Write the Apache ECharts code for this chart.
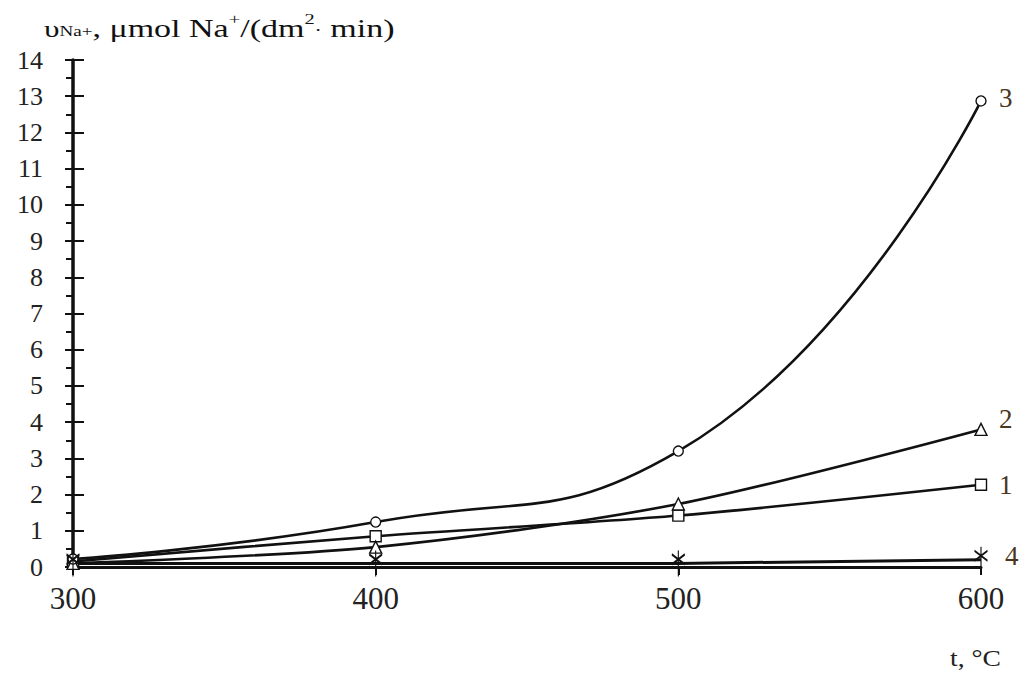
<!DOCTYPE html>
<html>
<head>
<meta charset="utf-8">
<script src="https://cdn.jsdelivr.net/npm/echarts@6/dist/echarts.min.js"></script>
<style>html,body{margin:0;padding:0;background:#fff}#c{width:1023px;height:679px}</style>
</head>
<body>
<div id="c"></div>
<script>
const temps = [300, 400, 500, 600];
const series1 = [0.15, 0.85, 1.42, 2.27];
const series2 = [0.1, 0.55, 1.74, 3.8];
const series3 = [0.22, 1.24, 3.2, 12.87];
const series4 = [0.1, 0.1, 0.1, 0.2];
const seriesNames = ['1', '2', '3', '4'];
const yTicks = [0, 14, 1];
const xTicks = [300, 600, 100];

const serif = '"Liberation Serif", "DejaVu Serif", serif';
const ink = '#111';
const labelInk = '#4a3520';
const asterisk = 'path://M6 0 L6 26 M0 4 L12 14 M12 4 L0 14';

function pts(vals) { return temps.map((t, i) => [t, vals[i]]); }

const chart = echarts.init(document.getElementById('c'), null, { renderer: 'svg' });

function mkSeries(name, vals, symbol, size, smooth, offset, extra) {
  return Object.assign({
    name: name,
    type: 'line',
    data: pts(vals),
    smooth: smooth,
    symbol: symbol,
    symbolSize: size,
    showAllSymbol: true,
    lineStyle: { color: ink, width: 2.6 },
    itemStyle: { color: '#fff', borderColor: ink, borderWidth: 1.4 },
    endLabel: {
      show: true,
      formatter: name,
      fontFamily: serif,
      fontSize: 27,
      color: labelInk,
      distance: 16,
      offset: offset
    },
    z: 3
  }, extra || {});
}

chart.setOption({
  animation: false,
  backgroundColor: '#fff',
  grid: { left: 73, right: 42, top: 60, bottom: 112, containLabel: false },
  xAxis: [{
    type: 'value', min: xTicks[0], max: xTicks[1], interval: xTicks[2],
    axisLine: { show: true, onZero: false, lineStyle: { color: ink, width: 3 } },
    axisTick: { show: true, length: 8, lineStyle: { color: ink, width: 2 } },
    axisLabel: { fontFamily: serif, fontSize: 31, color: '#222', margin: 16 },
    splitLine: { show: false }
  }],
  yAxis: [{
    type: 'value', min: yTicks[0], max: yTicks[1], interval: yTicks[2],
    axisLine: { show: true, lineStyle: { color: ink, width: 3.5 } },
    axisTick: { show: true, length: 8, lineStyle: { color: ink, width: 2 } },
    minorTick: { show: true, splitNumber: 2, length: 7, lineStyle: { color: ink, width: 2 } },
    axisLabel: { fontFamily: serif, fontSize: 26, color: '#222', margin: 30 },
    splitLine: { show: false }
  }, {
    type: 'value', min: yTicks[0], max: yTicks[1], interval: yTicks[2], position: 'left',
    axisLine: { show: false },
    axisTick: { show: true, inside: true, length: 11, lineStyle: { color: ink, width: 2 } },
    axisLabel: { show: false },
    splitLine: { show: false }
  }],
  graphic: [{
    type: 'text', left: 44, top: 11, scaleX: 1.36, originX: 0, originY: 0,
    style: {
      text: '{u|υ}{s|Na+}{n|, μmol Na}{p|+}{n|/(dm}{p|2}{d|·}{n| min)}',
      rich: {
        u: { fontFamily: serif, fontSize: 23, fill: '#111', lineHeight: 30, verticalAlign: 'bottom' },
        s: { fontFamily: serif, fontSize: 14, fill: '#111', lineHeight: 30, verticalAlign: 'bottom', padding: [0, 0, 3, 0] },
        n: { fontFamily: serif, fontSize: 25, fill: '#111', lineHeight: 30, verticalAlign: 'bottom' },
        p: { fontFamily: serif, fontSize: 15, fill: '#111', lineHeight: 30, verticalAlign: 'top' },
        d: { fontFamily: serif, fontSize: 16, fill: '#111', lineHeight: 30, verticalAlign: 'bottom', padding: [0, 0, 2, 0] }
      }
    }
  }, {
    type: 'text', left: 950, top: 646, scaleX: 1.15, originX: 0, originY: 0,
    style: { text: 't, °C', font: '24px ' + serif, fill: '#222' }
  }],
  series: [
    mkSeries(seriesNames[0], series1, 'rect', 11, 0.3, [2, 0]),
    mkSeries(seriesNames[1], series2, 'triangle', 12, 0.3, [2, -10]),
    mkSeries(seriesNames[2], series3, 'circle', 10, 0.5, [2, -3]),
    mkSeries(seriesNames[3], series4, asterisk, [13, 26], false, [8, -4], {
      itemStyle: { color: 'none', borderColor: ink, borderWidth: 1.6 },
      lineStyle: { color: ink, width: 3 }
    })
  ]
});
</script>
</body>
</html>
